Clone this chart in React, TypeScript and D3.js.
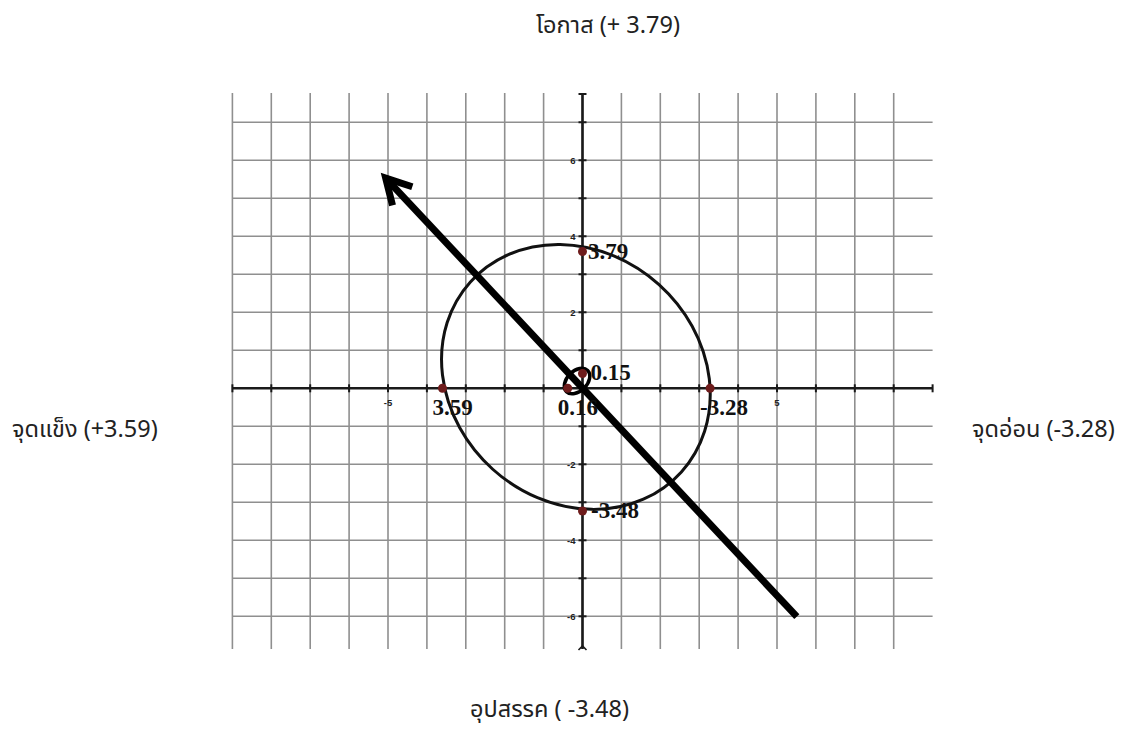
import React from "react";
import * as d3 from "d3";

// ---- data ----
const xDomain = [-9, 9];
const yDomain = [-6.86, 7.77];
const gridX = d3.range(-9, 9); // -9..8
const gridY = d3.range(-6, 8); // -6..7
const tickX = d3.range(-9, 10);
const tickY = d3.range(-6, 8);
const tickLabelsX = [-5, 5];
const tickLabelsY = [6, 4, 2, -2, -4, -6];

// hand-drawn ellipse: centre, semi-axes (data units) and tilt (degrees, clockwise on screen)
const ellipseCenter = [-0.17, 0.3];
const ellipseSemiAxes = [3.65, 3.27];
const ellipseTilt = 42;

const pointX = [-3.6, 0, 3.28, 0, 0, -0.38];
const pointY = [0, 3.6, 0, -3.23, 0.39, 0];
const pointLabels = ["3.59", "3.79", "-3.28", "-3.48", "0.15", "0.16"];

const arrowFrom = [5.51, -6.01];
const arrowTo = [-5.06, 5.53];
const loopCenter = [-0.14, 0.19];

const quadrantLabels = ["โอกาส (+ 3.79)", "จุดแข็ง (+3.59)", "จุดอ่อน (-3.28)", "อุปสรรค ( -3.48)"];

// ---- style ----
const W = 1123;
const H = 733;
const labelOffsets = [
  [-10, 27],
  [5.5, 8],
  [-10, 27],
  [8.5, 7],
  [8, 7],
  [-10, 27],
];
const quadPos = [
  { x: 608, y: 33, anchor: "middle" },
  { x: 12, y: 437, anchor: "start" },
  { x: 972, y: 437, anchor: "start" },
  { x: 470, y: 717, anchor: "start" },
];
const thaiFont = "'Noto Sans Thai', 'Noto Sans', 'DejaVu Sans', sans-serif";

export default function App() {
  const x = d3.scaleLinear().domain(xDomain).range([232.4, 932.6]);
  const y = d3.scaleLinear().domain(yDomain).range([649, 93]);
  const x0 = x(0);
  const y0 = y(0);
  const kx = x(1) - x(0);
  const ky = y(0) - y(1);

  const ecx = x(ellipseCenter[0]);
  const ecy = y(ellipseCenter[1]);

  const ax1 = x(arrowFrom[0]);
  const ay1 = y(arrowFrom[1]);
  const ax2 = x(arrowTo[0]);
  const ay2 = y(arrowTo[1]);
  const ang = Math.atan2(ay1 - ay2, ax1 - ax2);
  const barb = 28;
  const spread = (29 * Math.PI) / 180;
  const b1 = [ax2 + barb * Math.cos(ang - spread), ay2 + barb * Math.sin(ang - spread)];
  const b2 = [ax2 + barb * Math.cos(ang + spread), ay2 + barb * Math.sin(ang + spread)];

  return (
    <svg width={W} height={H} style={{ position: "absolute", left: 0, top: 0, background: "#fff" }}>
      <rect width={W} height={H} fill="#fff" />
      {/* grid */}
      <g stroke="#8f8f8f" strokeWidth={1.6}>
        {gridX.map((v) => (
          <line key={"gx" + v} x1={x(v)} x2={x(v)} y1={y(yDomain[1])} y2={y(yDomain[0])} />
        ))}
        {gridY.map((v) => (
          <line key={"gy" + v} x1={x(xDomain[0])} x2={x(xDomain[1])} y1={y(v)} y2={y(v)} />
        ))}
      </g>
      {/* axes */}
      <g stroke="#1a1a1a" strokeWidth={2.6}>
        <line x1={x(xDomain[0])} x2={x(xDomain[1])} y1={y0} y2={y0} />
        <line x1={x0} x2={x0} y1={y(yDomain[1])} y2={y(yDomain[0])} />
        {tickX.map((v) => (
          <line key={"tx" + v} x1={x(v)} x2={x(v)} y1={y0 - 4} y2={y0 + 4} strokeWidth={2} />
        ))}
        {tickY.map((v) => (
          <line key={"ty" + v} x1={x0 - 4} x2={x0 + 4} y1={y(v)} y2={y(v)} strokeWidth={2} />
        ))}
        <line x1={x0 - 4} x2={x0 + 4} y1={y(yDomain[1]) + 1} y2={y(yDomain[1]) + 1} strokeWidth={2} />
        <polyline points={`${x0 - 4},${y(yDomain[0]) + 1} ${x0},${y(yDomain[0]) - 3} ${x0 + 4},${y(yDomain[0]) + 1}`} fill="none" strokeWidth={1.6} />
      </g>
      {/* tick labels */}
      <g fontFamily="'Liberation Sans', Arial, sans-serif" fontWeight="bold" fontSize={9.5} fill="#222">
        {tickLabelsX.map((v) => (
          <text key={"lx" + v} x={x(v)} y={y0 + 18} textAnchor="middle">
            {v}
          </text>
        ))}
        {tickLabelsY.map((v) => (
          <text key={"ly" + v} x={x0 - 7} y={y(v) + 3.5} textAnchor="end">
            {v}
          </text>
        ))}
      </g>
      {/* ellipse outline */}
      <ellipse
        cx={ecx}
        cy={ecy}
        rx={ellipseSemiAxes[0] * kx}
        ry={ellipseSemiAxes[1] * ky}
        transform={`rotate(${ellipseTilt} ${ecx} ${ecy})`}
        fill="none"
        stroke="#111"
        strokeWidth={3}
      />
      {/* arrow */}
      <line x1={ax1} y1={ay1} x2={ax2} y2={ay2} stroke="#000" strokeWidth={7} />
      <polyline points={`${b1[0]},${b1[1]} ${ax2},${ay2} ${b2[0]},${b2[1]}`} fill="none" stroke="#000" strokeWidth={7} strokeLinejoin="miter" />
      {/* small loop */}
      <ellipse
        cx={x(loopCenter[0])}
        cy={y(loopCenter[1])}
        rx={15}
        ry={10}
        transform={`rotate(-45 ${x(loopCenter[0])} ${y(loopCenter[1])})`}
        fill="none"
        stroke="#000"
        strokeWidth={3.5}
      />
      {/* points */}
      {pointX.map((v, i) => (
        <circle key={"p" + i} cx={x(v)} cy={y(pointY[i])} r={4.5} fill="#6e1c1c" />
      ))}
      {/* point labels */}
      <g fontFamily="'Liberation Serif', 'Times New Roman', serif" fontWeight="bold" fontSize={23} fill="#111">
        {pointX.map((v, i) => (
          <text key={"pl" + i} x={x(v) + labelOffsets[i][0]} y={y(pointY[i]) + labelOffsets[i][1]}>
            {pointLabels[i]}
          </text>
        ))}
      </g>
      {/* quadrant labels */}
      <g fontFamily={thaiFont} fontSize={23.5} fill="#222">
        {quadrantLabels.map((t, i) => (
          <text key={"q" + i} x={quadPos[i].x} y={quadPos[i].y} textAnchor={quadPos[i].anchor as any}>
            {t}
          </text>
        ))}
      </g>
    </svg>
  );
}
